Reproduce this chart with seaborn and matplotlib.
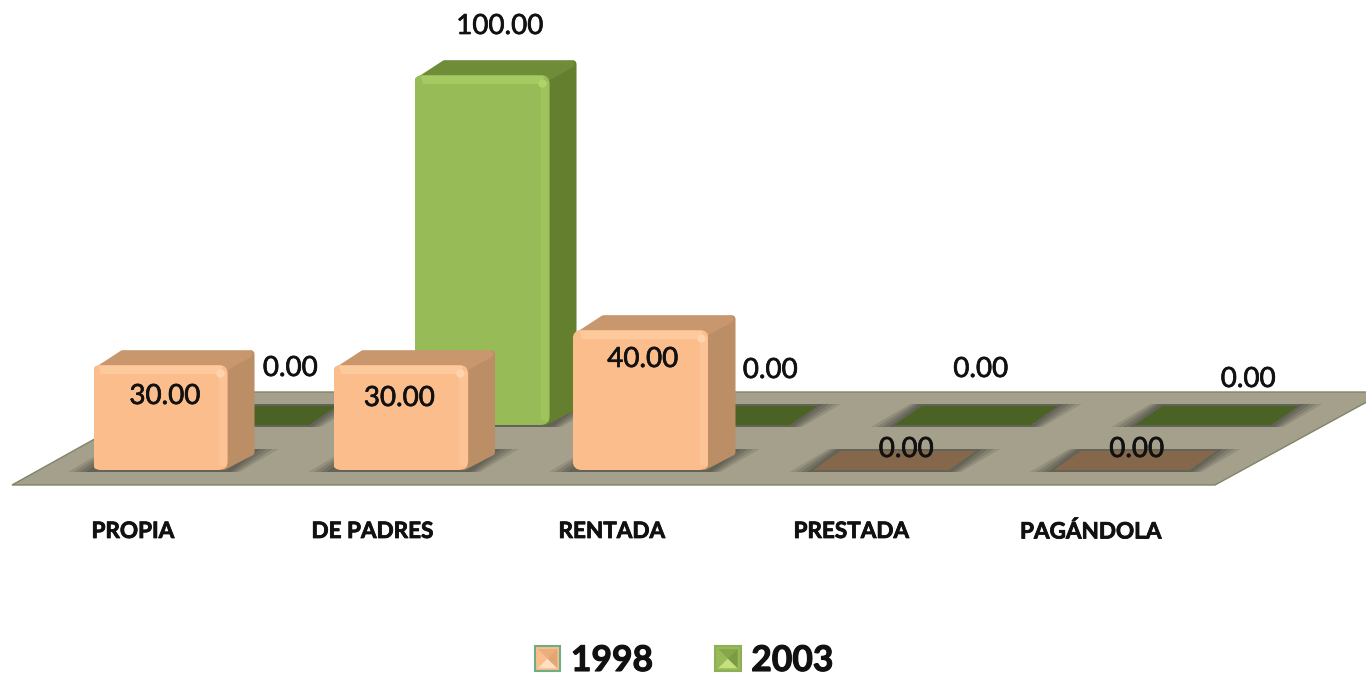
#!/usr/bin/env python3
"""Vivienda por tipo, 1998 vs 2003: fake 3D bars on a floor, drawn over seaborn bars."""

import matplotlib
matplotlib.use("Agg")
import matplotlib.pyplot as plt
import matplotlib.patheffects as pe
import matplotlib.transforms as mtransforms
from matplotlib.patches import Polygon, FancyBboxPatch, Patch
import seaborn as sns

# data
categories = ["PROPIA", "DE PADRES", "RENTADA", "PRESTADA", "PAGÁNDOLA"]
values_1998 = [30.00, 30.00, 40.00, 0.00, 0.00]
values_2003 = [0.00, 100.00, 0.00, 0.00, 0.00]
years = ["1998", "2003"]

# label nudges from the top-centre of each bar, in pixels (placed by hand in the original)
offsets_1998 = [(3, -31), (-2, -33), (2, -29), (26, 21), (17, 21)]
offsets_2003 = [(47, 57), (17, 49), (48, 55), (19, 56), (47, 46)]

# colours: front, side, top, flat (zero bar), highlight
ORANGE = ("#FBBD8C", "#BC8E66", "#C9976D", "#85674C", "#FFD3AB")
GREEN = ("#97BB57", "#64802F", "#6F8D39", "#4A6325", "#AFD568")
FLOOR = "#A4A08B"

W, H = 1366, 676
DEPTH_X, DEPTH_Y = 27, 15
FLAT_Y = 19

sns.set_style("white")
plt.rcParams["font.family"] = ["Lato", "DejaVu Sans"]

fig = plt.figure(figsize=(W / 100, H / 100), dpi=100)
px = mtransforms.Affine2D().scale(1, -1).translate(0, H)  # image pixels, y down


def bar_axes(left, base, zorder):
    # 240.5 px per category, 3.5 px per percent
    ax = fig.add_axes([left / W, (H - base) / H, 1202.5 / W, 350 / H], zorder=zorder)
    ax.patch.set_visible(False)
    return ax


def poly(ax, pts, color, z, **kw):
    kw.setdefault("lw", 0)
    p = Polygon(pts, closed=True, facecolor=color, edgecolor=kw.pop("edge", "none"),
                transform=px, clip_on=False, zorder=z, **kw)
    ax.add_patch(p)
    return p


def footprint(ax, x0, x1, y0, color=None):
    # soft grey halo on the floor, with the flat colour on top for zero bars
    top = y0 - FLAT_Y
    for grow, alpha in [(24, 0.2), (18, 0.28), (12, 0.35), (6, 0.45)]:
        poly(ax, [(x0 - grow, y0 + 2), (x1 + grow * 0.5, y0 + 2),
                  (x1 + DEPTH_X + grow, top - 2), (x0 + DEPTH_X - grow * 0.5, top - 2)],
             "#55544a", 0.3, alpha=alpha)
    if color:
        poly(ax, [(x0, y0), (x1, y0), (x1 + DEPTH_X, top), (x0 + DEPTH_X, top)], color, 0.5)


def dress_bars(ax, values, colors, offsets):
    front, side, top, flat, light = colors
    for bar, val, (dx, dy) in zip(list(ax.patches), values, offsets):
        ext = bar.get_window_extent()
        x0, x1 = ext.x0, ext.x1
        y0, y1 = H - ext.y0, H - ext.y1
        footprint(ax, x0, x1, y0, flat if val == 0 else None)
        if val > 0:
            # side and top faces, thick round strokes give the soft corners
            poly(ax, [(x1 - 4, y0 - 4), (x1 + DEPTH_X - 4, y0 - DEPTH_Y - 3),
                      (x1 + DEPTH_X - 4, y1 - DEPTH_Y + 4), (x1 - 4, y1 + 4)],
                 side, 0.8, edge=side, lw=5.5, joinstyle="round")
            poly(ax, [(x0 + 8, y1 + 4), (x0 + DEPTH_X + 4, y1 - DEPTH_Y + 4),
                      (x1 + DEPTH_X - 6, y1 - DEPTH_Y + 4), (x1 - 6, y1 + 4)],
                 top, 0.85, edge=top, lw=5.5, joinstyle="round")
            # rounded front face with bevel strips
            r = 9
            clip = FancyBboxPatch((x0 + r, y1 + r), x1 - x0 - 2 * r, y0 - y1 - 2 * r,
                                  boxstyle=f"round,pad={r},rounding_size={r}", transform=px)
            bar.set_clip_path(clip)
            poly(ax, [(x0 + 7, y1 + 1), (x1 - 5, y1 + 1), (x1 - 9, y1 + 9), (x0 + 9, y1 + 9)],
                 light, 1.5, alpha=0.6)
            poly(ax, [(x1 - 1, y1 + 6), (x1 - 1, y0 - 3), (x1 - 9, y0 - 5), (x1 - 9, y1 + 9)],
                 light, 1.5, alpha=0.35)
            ax.plot([x1 - 8], [y1 + 8], "o", ms=6, color=light, mew=0, transform=px,
                    zorder=1.6, clip_on=False)
        ax.annotate(f"{val:.2f}", xy=(bar.get_x() + bar.get_width() / 2, val), xycoords="data",
                    xytext=(dx, dy), textcoords="offset pixels", ha="center", va="center",
                    fontsize=20, color="#111111", annotation_clip=False, zorder=5,
                    path_effects=[pe.withStroke(linewidth=0.5, foreground="#111111")])


ax_back = bar_axes(121, 425, 1)
ax_front = bar_axes(39.5, 470, 2)

sns.barplot(x=categories, y=values_2003, color=GREEN[0], saturation=1, width=0.565, ax=ax_back,
            edgecolor="none", linewidth=0)
sns.barplot(x=categories, y=values_1998, color=ORANGE[0], saturation=1, width=0.565, ax=ax_front,
            edgecolor="none", linewidth=0)

for ax in (ax_back, ax_front):
    ax.set_ylim(0, 100)
    ax.set_ylabel("")
    ax.set_yticks([])
    sns.despine(ax=ax, left=True, bottom=True)
ax_back.set_xticks([])

# floor
poly(ax_back, [(12, 485), (1215, 485), (1385, 392), (179, 392)], FLOOR, 0.1,
     edge="#7F8568", lw=1)

dress_bars(ax_back, values_2003, GREEN, offsets_2003)
dress_bars(ax_front, values_1998, ORANGE, offsets_1998)

# category labels sit left of the bars
ax_front.tick_params(axis="x", length=0, pad=36.7)
shift = mtransforms.Affine2D().translate(-29, 0)
for lab in ax_front.get_xticklabels():
    lab.set_fontsize(16.2)
    lab.set_fontweight("bold")
    lab.set_color("#111111")
    lab.set_transform(lab.get_transform() + shift)
    lab.set_path_effects([pe.withStroke(linewidth=0.6, foreground="#111111")])

# legend
handles = [Patch(facecolor=ORANGE[0], edgecolor="#6FAE85", lw=1.5),
           Patch(facecolor=GREEN[0], edgecolor="#8FAE5A", lw=1.5)]
leg = fig.legend(handles, years, loc="center", bbox_to_anchor=(684 / W, (H - 661) / H), ncol=2,
                 frameon=False, handlelength=0.72, handleheight=0.72, handletextpad=0.3,
                 columnspacing=1.75, prop={"size": 25.5, "weight": "bold"}, labelcolor="#111111")
for t in leg.get_texts():
    t.set_path_effects([pe.withStroke(linewidth=0.8, foreground="#111111")])

fig.canvas.draw()
# pyramid shading on the legend swatches
overlay = fig.add_axes([0, 0, 1, 1], zorder=6)
overlay.axis("off")
for h, tint, shade in zip(leg.legend_handles, ("#FFE0C0", "#C6E07C"), ("#C98F62", "#5F7C30")):
    e = h.get_window_extent()
    a, b, c, d = e.x0 + 3, e.x1 - 3, H - e.y1 + 3, H - e.y0 - 3
    mx, my = (a + b) / 2, (c + d) / 2
    poly(overlay, [(a, d), (b, d), (mx, my)], tint, 4)
    poly(overlay, [(b, c), (b, d), (mx, my)], shade, 4, alpha=0.5)
    poly(overlay, [(a, c), (b, c), (mx, my)], shade, 4, alpha=0.3)

fig.savefig("out.png", dpi=100)
plt.close(fig)
